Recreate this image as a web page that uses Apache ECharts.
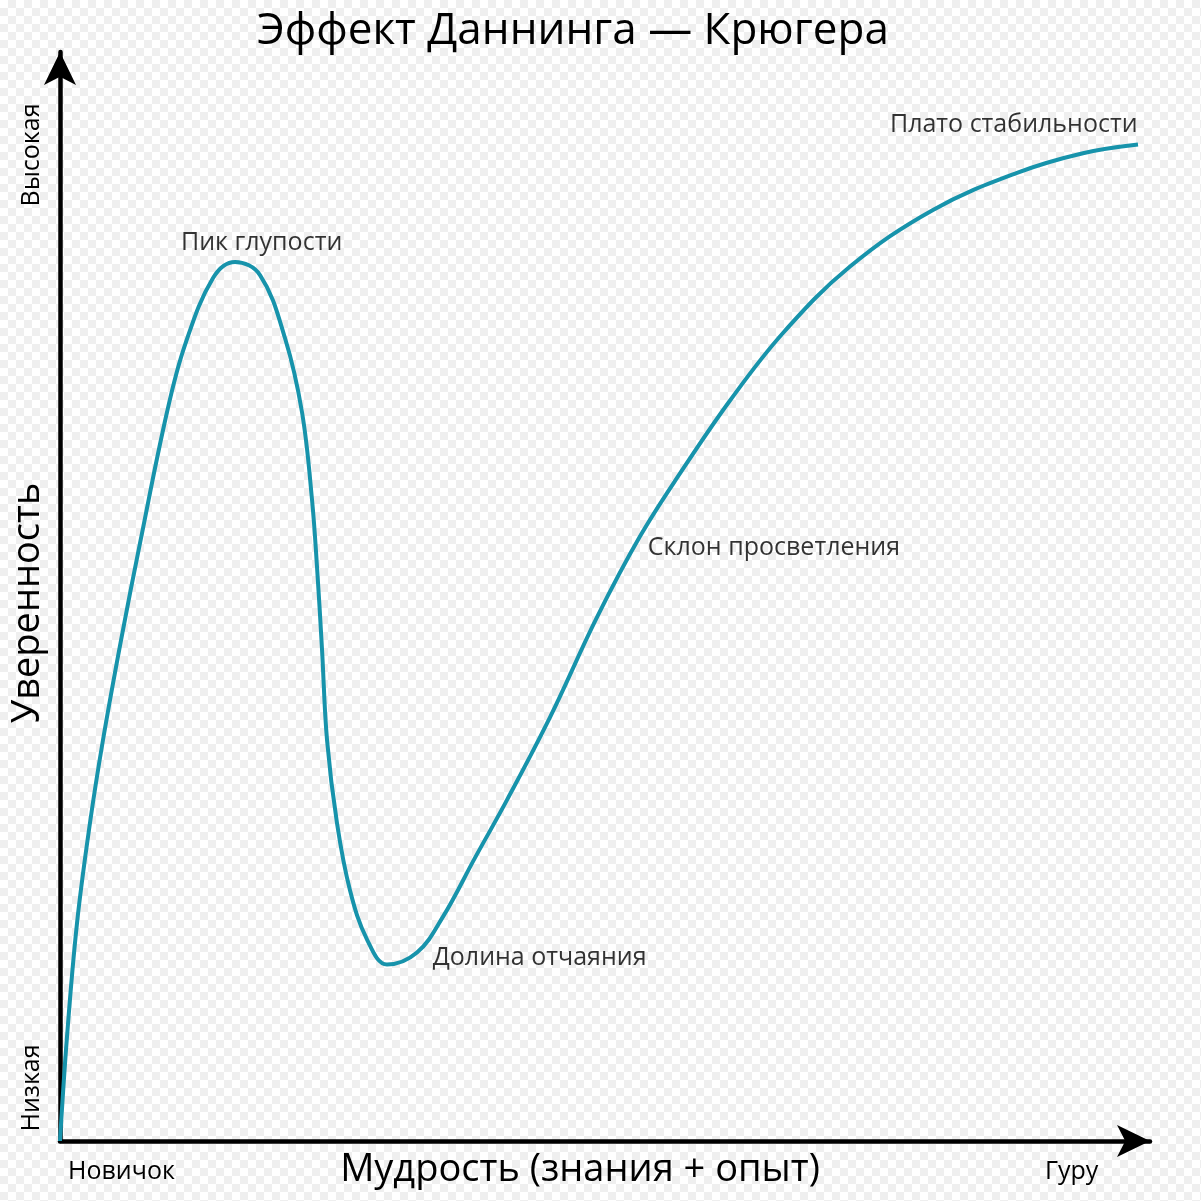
<!DOCTYPE html>
<html>
<head>
<meta charset="utf-8">
<title>Эффект Даннинга — Крюгера</title>
<script src="https://cdn.jsdelivr.net/npm/echarts@6/dist/echarts.min.js"></script>
<style>
  html, body { margin: 0; padding: 0; }
  body {
    width: 1201px; height: 1201px;
    background-color: #ffffff;
    background-image: conic-gradient(#efefef 25%, #ffffff 0 50%, #efefef 0 75%, #ffffff 0);
    background-size: 16px 16px;
  }
  #chart { width: 1201px; height: 1201px; }
</style>
</head>
<body>
<div id="chart"></div>
<script>
// кривая: мудрость (0..100) -> уверенность (0..100)
var wisdom = [0, 0.64, 1.56, 2.75, 3.94, 5.6, 7.34, 9.82, 11.47, 14.04,
  16.06, 18.35, 20.64, 22.2, 23.12, 23.58, 24.04, 24.5,
  25.41, 26.61, 28.17, 30.0, 32.75, 35.14, 38.07, 41.0, 44.95,
  49.27, 53.2, 56.88, 61.47, 66.33, 72.48, 80.09, 87.8, 93.85, 98.9];
var confidence = [0, 9.55, 20.0, 29.2, 36.8, 46.0, 54.9, 66.94, 73.1, 79.25,
  80.72, 79.52, 73.74, 66.94, 58.9, 52.7, 45.1, 36.8,
  29.2, 23.0, 18.5, 16.2, 17.3, 20.6, 26.0, 31.3, 38.9,
  48.1, 55.5, 61.3, 68.0, 74.2, 80.3, 85.5, 88.9, 90.7, 91.5];

// подписи этапов и где они стоят (в единицах осей)
var stageNames = ['Пик глупости', 'Долина отчаяния', 'Склон просветления', 'Плато стабильности'];
var stageX = [18.5, 44.0, 65.5, 87.5];
var stageY = [82.5, 16.8, 54.5, 93.3];

var xEndLabels = ['Новичок', 'Гуру'];
var yEndLabels = ['Низкая', 'Высокая'];
var titleText = 'Эффект Даннинга — Крюгера';
var xName = 'Мудрость (знания + опыт)';
var yName = 'Уверенность';

var font = '"Open Sans", "Noto Sans", sans-serif';

var curve = wisdom.map(function (w, i) { return [w, confidence[i]]; });
var stages = stageNames.map(function (n, i) { return { name: n, value: [stageX[i], stageY[i]] }; });

var chart = echarts.init(document.getElementById('chart'), null, { renderer: 'canvas' });

var axisLine = {
  show: true,
  symbol: ['none', 'arrow'],
  symbolSize: [24, 33],
  lineStyle: { color: '#000', width: 4.5 }
};

var option = {
  backgroundColor: 'transparent',
  animation: false,
  title: {
    text: titleText,
    left: 252,
    top: 4,
    textStyle: { fontFamily: font, fontSize: 44, fontWeight: 'normal', color: '#000' }
  },
  grid: { left: 60, right: 51, top: 52, bottom: 60 },
  xAxis: {
    type: 'value', min: 0, max: 100,
    axisLine: axisLine,
    axisTick: { show: false }, axisLabel: { show: false }, splitLine: { show: false }
  },
  yAxis: {
    type: 'value', min: 0, max: 100,
    axisLine: axisLine,
    axisTick: { show: false }, axisLabel: { show: false }, splitLine: { show: false }
  },
  series: [
    {
      type: 'line',
      data: curve,
      smooth: 0.38,
      showSymbol: false,
      lineStyle: { color: '#1793ab', width: 4 }
    },
    {
      type: 'scatter',
      data: stages,
      symbolSize: 0,
      clip: false,
      label: {
        show: true,
        position: 'inside',
        formatter: '{b}',
        fontFamily: font,
        fontSize: 25,
        color: '#000'
      }
    }
  ],
  graphic: [
    { type: 'text', left: 68, top: 1159,
      style: { text: xEndLabels[0], font: '25px ' + font, fill: '#000' } },
    { type: 'text', left: 1045, top: 1159,
      style: { text: xEndLabels[1], font: '25px ' + font, fill: '#000' } },
    { type: 'text', x: 32, y: 1088, rotation: Math.PI / 2,
      style: { text: yEndLabels[0], font: '25px ' + font, fill: '#000', align: 'center', verticalAlign: 'middle' } },
    { type: 'text', x: 32, y: 155, rotation: Math.PI / 2,
      style: { text: yEndLabels[1], font: '25px ' + font, fill: '#000', align: 'center', verticalAlign: 'middle' } },
    { type: 'text', x: 580, y: 1170,
      style: { text: xName, font: '38px ' + font, fill: '#000', align: 'center', verticalAlign: 'middle' } },
    { type: 'text', x: 28, y: 603, rotation: Math.PI / 2,
      style: { text: yName, font: '38px ' + font, fill: '#000', align: 'center', verticalAlign: 'middle' } }
  ]
};

chart.setOption(option);
</script>
</body>
</html>
